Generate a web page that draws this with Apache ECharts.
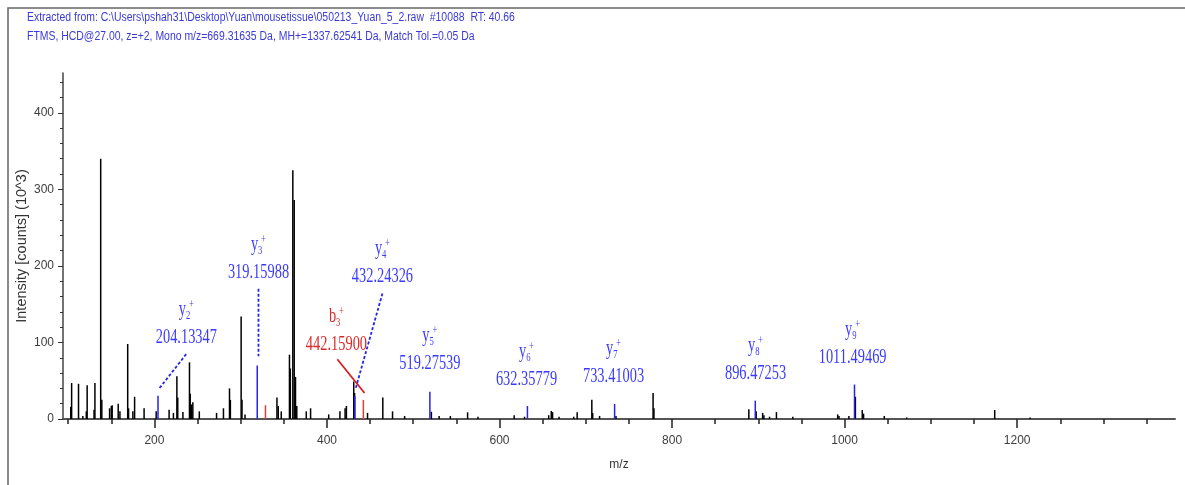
<!DOCTYPE html>
<html>
<head>
<meta charset="utf-8">
<script src="https://cdn.jsdelivr.net/npm/echarts@6/dist/echarts.min.js"></script>
<style>
html, body { margin: 0; padding: 0; background: #fff; }
#spec { width: 1185px; height: 485px; }
</style>
</head>
<body>
<div id="spec"></div>
<script>
var headerLines = [
    'Extracted from: C:\\Users\\pshah31\\Desktop\\Yuan\\mousetissue\\050213_Yuan_5_2.raw  #10088  RT: 40.66',
    'FTMS, HCD@27.00, z=+2, Mono m/z=669.31635 Da, MH+=1337.62541 Da, Match Tol.=0.05 Da'
];

// unassigned peaks [m/z, intensity (10^3)]
var otherPeaks = [
    [103, 16], [104, 47], [112, 46], [117, 4], [121, 10], [122, 44], [130, 12], [131, 47],
    [137.7, 340], [139, 25], [148, 14], [150, 17], [151, 18], [158, 20], [160, 10],
    [169, 98], [170, 14], [175, 10], [177, 29], [188, 14], [202, 10], [217, 12], [222, 8],
    [226, 56], [227, 28], [233, 9], [240.6, 74], [241.5, 33], [243, 19], [244.5, 22],
    [252, 10], [272, 8], [280, 14], [287, 40], [288, 25], [300.5, 134], [301.5, 25], [305, 6],
    [342, 28], [343.5, 17], [347, 10], [356.5, 84], [357.5, 66], [360.4, 325], [362, 286],
    [363.5, 55], [365, 17], [376, 10], [381, 14], [402, 6], [415, 10], [421, 14], [422.5, 17],
    [431, 49], [432, 34], [447, 8], [464.7, 28], [476, 10], [490, 4], [521, 9.5], [530, 4],
    [543, 4], [563, 8.7], [575, 3], [617, 5], [629, 3], [657, 5], [660, 10.5], [661.5, 9],
    [669, 3], [686, 3], [690, 8.7], [707, 25], [708, 8], [716, 4], [735, 4], [778, 34],
    [779, 14], [889, 12.6], [897.5, 10], [905, 8], [906.5, 5], [913, 3], [921, 9], [940, 3],
    [992, 6], [993.5, 4], [1005, 4], [1012.5, 29], [1020.5, 11.7], [1022, 7], [1046, 4],
    [1072, 2], [1174, 11.7], [1215, 2]
];

// matched fragment ions
var yIonPeaks = [
    [204.13347, 30.5], [319.15988, 70], [432.24326, 30], [519.27539, 35.7],
    [632.35779, 17], [733.41003, 19.6], [896.47253, 24], [1011.49469, 45]
];
var bIonPeaks = [[328.7, 18], [442.159, 25]];

// labels: name, subscript, m/z text
var ionLetter = ['y', 'y', 'y', 'b', 'y', 'y', 'y', 'y', 'y'];
var ionIndex = ['2', '3', '4', '3', '5', '6', '7', '8', '9'];
var ionMzText = ['204.13347', '319.15988', '432.24326', '442.15900', '519.27539',
    '632.35779', '733.41003', '896.47253', '1011.49469'];

// where each label sits, in chart units (m/z, intensity)
var labelAnchor = [[237, 106], [320.6, 191], [464.3, 186], [411, 97], [519.3, 72],
    [631.3, 51], [732.2, 55], [896.8, 59], [1009.3, 80]];

// leader lines [x1, y1, x2, y2] in chart units, dashed blue / solid red
var blueLeaders = [[206, 40.5, 237, 85], [320.6, 170, 320.6, 82], [464.3, 164, 433, 39]];
var redLeaders = [[412, 78, 443.5, 34]];

var xMajorTicks = [200, 400, 600, 800, 1000, 1200];
var xMinorTicks = [100, 150, 250, 300, 350, 450, 500, 550, 650, 700, 750, 850, 900, 950,
    1050, 1100, 1150, 1250, 1300, 1350];
var yMajorTicks = [0, 100, 200, 300, 400];
var yMinorTicks = [20, 40, 60, 80, 120, 140, 160, 180, 220, 240, 260, 280, 320, 340, 360,
    380, 420, 440];

var chart = echarts.init(document.getElementById('spec'));

function stickSeries(name, data, color, width) {
    return {
        name: name,
        type: 'custom',
        silent: true,
        data: data,
        renderItem: function (params, api) {
            var top = api.coord([api.value(0), api.value(1)]);
            var base = api.coord([api.value(0), 0]);
            return {
                type: 'line',
                shape: { x1: top[0], y1: top[1], x2: base[0], y2: base[1] },
                style: { stroke: color, lineWidth: width }
            };
        }
    };
}

function leaderSeries(data, color, dash) {
    return {
        type: 'custom',
        silent: true,
        data: data,
        encode: { x: [0, 2], y: [1, 3] },
        renderItem: function (params, api) {
            var a = api.coord([api.value(0), api.value(1)]);
            var b = api.coord([api.value(2), api.value(3)]);
            return {
                type: 'line',
                shape: { x1: a[0], y1: a[1], x2: b[0], y2: b[1] },
                style: { stroke: color, lineWidth: 1.8, lineDash: dash ? [3, 2] : null }
            };
        }
    };
}

var serif = "'Liberation Serif', 'Times New Roman', serif";
var sans = "'Liberation Sans', Arial, sans-serif";

chart.setOption({
    animation: false,
    backgroundColor: '#fff',
    grid: { left: 63, right: 10, top: 73, bottom: 66 },
    xAxis: [{
        type: 'value', min: 94, max: 1383, position: 'bottom',
        axisLine: { lineStyle: { color: '#555', width: 2 } },
        axisTick: { customValues: xMajorTicks, length: 9, lineStyle: { color: '#222', width: 1.5 } },
        axisLabel: { customValues: xMajorTicks, margin: 16, color: '#3c3c3c', fontSize: 12,
            fontFamily: sans, formatter: function (v) { return String(v); } },
        splitLine: { show: false },
        name: 'm/z', nameLocation: 'middle', nameGap: 40, nameMoveOverlap: false,
        nameTextStyle: { color: '#333', fontSize: 12, fontFamily: sans }
    }, {
        type: 'value', min: 94, max: 1383, position: 'bottom',
        axisLine: { show: false },
        axisTick: { customValues: xMinorTicks, length: 5, lineStyle: { color: '#222', width: 1.5 } },
        axisLabel: { show: false },
        splitLine: { show: false }
    }],
    yAxis: [{
        type: 'value', min: 0, max: 452, position: 'left',
        axisLine: { show: true, lineStyle: { color: '#444', width: 1.5 } },
        axisTick: { show: true, customValues: yMajorTicks, length: 5, lineStyle: { color: '#333' } },
        axisLabel: { customValues: yMajorTicks, margin: 9, color: '#3c3c3c', fontSize: 12,
            fontFamily: sans },
        splitLine: { show: false },
        name: 'Intensity [counts] (10^3)', nameLocation: 'middle', nameGap: 34, nameMoveOverlap: false,
        nameTextStyle: { color: '#333', fontSize: 14.5, fontFamily: sans }
    }, {
        type: 'value', min: 0, max: 452, position: 'left',
        axisLine: { show: false },
        axisTick: { show: true, customValues: yMinorTicks, length: 3, lineStyle: { color: '#333' } },
        axisLabel: { show: false },
        splitLine: { show: false }
    }],
    graphic: [
        { type: 'polyline', silent: true, shape: { points: [[8, 485], [8, 8], [1185, 8]] },
          style: { stroke: '#666', lineWidth: 1.5, fill: null } },
        { type: 'text', x: 27, y: 12, scaleX: 0.87, silent: true,
          style: { text: headerLines[0], fill: '#3a3ad6', font: '12px ' + sans } },
        { type: 'text', x: 27, y: 31, scaleX: 0.87, silent: true,
          style: { text: headerLines[1], fill: '#3a3ad6', font: '12px ' + sans } }
    ],
    series: [
        stickSeries('other', otherPeaks, '#000', 1.5),
        leaderSeries(blueLeaders, '#2626e6', true),
        leaderSeries(redLeaders, '#d81e1e', false),
        stickSeries('y ions', yIonPeaks, '#2424e8', 1.5),
        stickSeries('b ions', bIonPeaks, '#e03a3a', 1.5),
        {
            type: 'custom',
            silent: true,
            data: labelAnchor,
            renderItem: function (params, api) {
                var i = params.dataIndex;
                var p = api.coord([api.value(0), api.value(1)]);
                var col = ionLetter[i] === 'b' ? '#e02626' : '#3a3aff';
                return {
                    type: 'group',
                    x: p[0], y: p[1], scaleX: 0.72,
                    children: [
                        { type: 'text', style: { text: ionMzText[i], x: 0, y: 0, align: 'center',
                            verticalAlign: 'middle', fill: col, font: '20px ' + serif } },
                        { type: 'text', style: { text: ionLetter[i], x: -10.5, y: -28, align: 'left',
                            verticalAlign: 'middle', fill: col, font: '20px ' + serif } },
                        { type: 'text', style: { text: ionIndex[i], x: -0.5, y: -22, align: 'left',
                            verticalAlign: 'middle', fill: col, font: '12px ' + serif } },
                        { type: 'text', style: { text: '+', x: 3.5, y: -33, align: 'left',
                            verticalAlign: 'middle', fill: col, font: '12px ' + serif } }
                    ]
                };
            }
        }
    ]
});
</script>
</body>
</html>
